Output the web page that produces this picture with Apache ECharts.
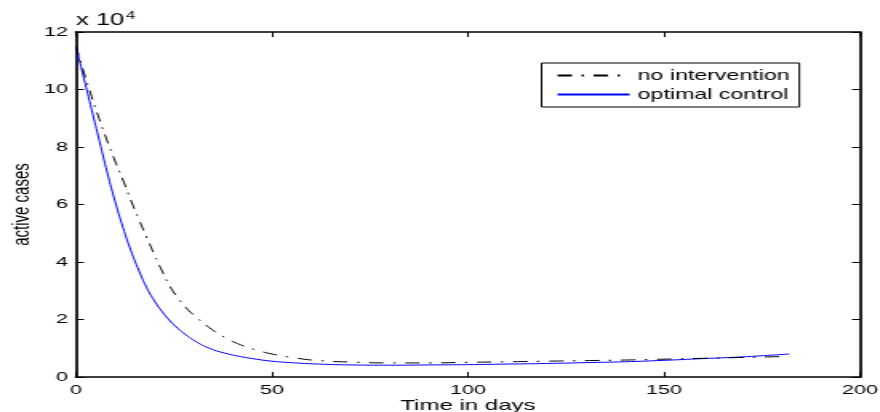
<!DOCTYPE html>
<html>
<head>
<meta charset="utf-8">
<script src="https://cdn.jsdelivr.net/npm/echarts@6/dist/echarts.min.js"></script>
<style>
  html, body { margin: 0; padding: 0; background: #fff; overflow: hidden; }
  /* the original figure is a narrow plot stretched sideways, so draw narrow and stretch */
  #chart { width: 550px; height: 412px; transform: scaleX(1.6); transform-origin: 0 0; }
</style>
</head>
<body>
<div id="chart"></div>
<script>
// days and active cases
var daysNo = [0, 2, 4, 6, 8, 10, 12, 14, 16, 18, 20, 22, 24, 26, 28, 30, 34, 38, 42, 46, 50, 56, 62, 70, 80, 90, 100, 110, 120, 130, 140, 150, 160, 170, 180, 182];
var noIntervention = [115000, 106000, 97500, 89500, 82000, 75000, 68500, 61500, 55000, 48700, 42600, 36800, 31500, 27500, 24200, 21600, 17200, 13700, 11200, 9400, 8000, 6600, 5700, 5200, 4900, 4900, 5100, 5300, 5500, 5700, 5900, 6200, 6500, 6800, 7100, 7200];

var daysOpt = [0, 2, 4, 6, 8, 10, 12, 14, 16, 18, 20, 22, 24, 26, 28, 30, 34, 38, 42, 46, 50, 56, 62, 70, 80, 90, 100, 110, 120, 130, 140, 150, 160, 170, 182];
var optimalControl = [115000, 104000, 93000, 82000, 71000, 61000, 52000, 44000, 37200, 31200, 26500, 22700, 19500, 16900, 14700, 12800, 10000, 8300, 7100, 6200, 5500, 4900, 4500, 4200, 4100, 4200, 4300, 4500, 4700, 5000, 5300, 5800, 6400, 7000, 8000];

var xTicks = [0, 200, 50];          // min, max, step
var yTicks = [0, 120000, 20000];

function pairs(xs, ys) {
  var out = [];
  for (var i = 0; i < xs.length; i++) out.push([xs[i], ys[i]]);
  return out;
}

var font = 'Liberation Sans, Arial, Helvetica, sans-serif';
function axisLine() {
  return { show: true, onZero: false, lineStyle: { color: '#000', width: 1.7 } };
}
function tick() {
  return { show: true, inside: true, length: 5, lineStyle: { color: '#000', width: 1 } };
}

var chart = echarts.init(document.getElementById('chart'));
chart.setOption({
  animation: false,
  backgroundColor: '#fff',
  textStyle: { fontFamily: font },
  grid: { left: 47.5, right: 12.5, top: 32, bottom: 35, containLabel: false, outerBoundsMode: 'none' },
  legend: {
    orient: 'vertical',
    left: 338.5,
    top: 63,
    padding: [5, 6, 5, 9],
    itemWidth: 45,
    itemHeight: 14,
    itemGap: 4,
    borderColor: '#000',
    borderWidth: 1,
    backgroundColor: '#fff',
    itemStyle: { color: 'transparent', borderColor: 'transparent', borderWidth: 0 },
    textStyle: { fontFamily: font, fontSize: 14.5, color: '#000' },
    data: ['no intervention', 'optimal control']
  },
  xAxis: [
    {
      type: 'value',
      min: xTicks[0], max: xTicks[1], interval: xTicks[2],
      name: 'Time in days',
      nameLocation: 'middle',
      nameGap: 21,
      nameMoveOverlap: false,
      nameTextStyle: { fontFamily: font, fontSize: 15, color: '#000' },
      axisLine: axisLine(),
      axisTick: tick(),
      axisLabel: { fontFamily: font, fontSize: 13.5, color: '#000', margin: 6 },
      splitLine: { show: false }
    },
    {
      type: 'value', position: 'top',
      min: xTicks[0], max: xTicks[1], interval: xTicks[2],
      axisLine: axisLine(), axisTick: tick(),
      axisLabel: { show: false }, splitLine: { show: false }
    }
  ],
  yAxis: [
    {
      type: 'value',
      min: yTicks[0], max: yTicks[1], interval: yTicks[2],
      name: 'active cases',
      nameLocation: 'middle',
      nameGap: 26,
      nameMoveOverlap: false,
      nameTextStyle: { fontFamily: font, fontSize: 15, color: '#000' },
      axisLine: axisLine(),
      axisTick: tick(),
      axisLabel: {
        fontFamily: font, fontSize: 13.5, color: '#000', margin: 5,
        formatter: function (v) { return String(v / 10000); }
      },
      splitLine: { show: false }
    },
    {
      type: 'value', position: 'right',
      min: yTicks[0], max: yTicks[1], interval: yTicks[2],
      axisLine: axisLine(), axisTick: tick(),
      axisLabel: { show: false }, splitLine: { show: false }
    },
    {
      // carries the "x 10^4" multiplier above the left axis
      type: 'value', position: 'left',
      min: yTicks[0], max: yTicks[1], interval: yTicks[2],
      name: '{a|x 10}{b|4}',
      nameLocation: 'end',
      nameGap: 1,
      nameMoveOverlap: false,
      nameTextStyle: {
        align: 'left',
        fontFamily: font, fontSize: 16, color: '#000',
        rich: {
          a: { fontFamily: font, fontSize: 16, color: '#000' },
          b: { fontFamily: font, fontSize: 10.5, color: '#000', verticalAlign: 'top', padding: [0, 0, 9, 1] }
        }
      },
      axisLine: { show: false }, axisTick: { show: false },
      axisLabel: { show: false }, splitLine: { show: false }
    }
  ],
  series: [
    {
      name: 'no intervention',
      type: 'line',
      data: pairs(daysNo, noIntervention),
      smooth: true,
      symbol: 'none',
      lineStyle: { color: '#000', width: 1, type: [9, 6, 1.5, 6] },
      itemStyle: { color: '#000' },
      z: 3
    },
    {
      name: 'optimal control',
      type: 'line',
      data: pairs(daysOpt, optimalControl),
      smooth: true,
      symbol: 'none',
      lineStyle: { color: '#0000ff', width: 1 },
      itemStyle: { color: '#0000ff' },
      z: 2
    }
  ]
});
</script>
</body>
</html>
